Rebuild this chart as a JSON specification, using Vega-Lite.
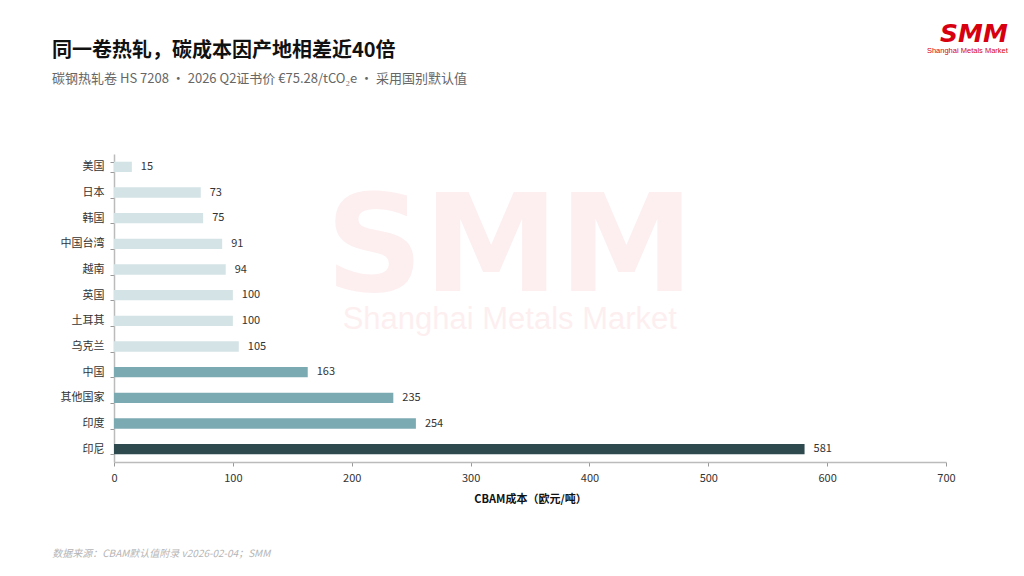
{
  "$schema": "https://vega.github.io/schema/vega-lite/v6.json",
  "description": "CBAM cost per tonne of hot-rolled coil by country of origin.",
  "width": 832,
  "height": 308,
  "autosize": {"type": "none"},
  "padding": {"left": 114, "top": 154, "right": 78, "bottom": 114},
  "background": "#ffffff",
  "title": {
    "text": "同一卷热轧，碳成本因产地相差近40倍",
    "subtitle": "碳钢热轧卷 HS 7208 · 2026 Q2证书价 €75.28/tCO₂e · 采用国别默认值",
    "anchor": "start",
    "frame": "group",
    "dx": -62,
    "offset": -64,
    "font": "Noto Sans CJK SC",
    "fontSize": 20,
    "fontWeight": "bold",
    "color": "#111111",
    "subtitleFont": "Noto Sans CJK SC",
    "subtitleFontSize": 13,
    "subtitleColor": "#666666",
    "subtitlePadding": 12
  },
  "data": {
    "values": [
      {"country": "美国", "cost": 15},
      {"country": "日本", "cost": 73},
      {"country": "韩国", "cost": 75},
      {"country": "中国台湾", "cost": 91},
      {"country": "越南", "cost": 94},
      {"country": "英国", "cost": 100},
      {"country": "土耳其", "cost": 100},
      {"country": "乌克兰", "cost": 105},
      {"country": "中国", "cost": 163},
      {"country": "其他国家", "cost": 235},
      {"country": "印度", "cost": 254},
      {"country": "印尼", "cost": 581}
    ]
  },
  "encoding": {
    "y": {
      "field": "country",
      "type": "nominal",
      "sort": ["美国", "日本", "韩国", "中国台湾", "越南", "英国", "土耳其", "乌克兰", "中国", "其他国家", "印度", "印尼"],
      "scale": {"paddingInner": 0.6, "paddingOuter": 0.3},
      "axis": {
        "title": null,
        "labelFont": "Noto Sans CJK SC",
        "labelFontSize": 11,
        "labelColor": "#333333",
        "labelPadding": 6,
        "tickBand": "extent",
        "tickSize": 4,
        "tickColor": "#999999",
        "domainColor": "#bbbbbb",
        "domainWidth": 1.5
      }
    }
  },
  "layer": [
    {
      "data": {"values": [{}]},
      "mark": {"type": "text", "font": "DejaVu Sans", "fontWeight": "bold", "fontSize": 136, "letterSpacing": -17, "color": "#fdeff0", "align": "center", "baseline": "alphabetic", "dy": 47},
      "encoding": {
        "x": {"datum": 333},
        "y": {"datum": "中国台湾"},
        "text": {"value": "SMM"}
      }
    },
    {
      "data": {"values": [{}]},
      "mark": {"type": "text", "font": "Liberation Sans", "fontSize": 31, "color": "#fdeff0", "align": "center", "baseline": "middle", "dy": -1},
      "encoding": {
        "x": {"datum": 333},
        "y": {"datum": "土耳其"},
        "text": {"value": "Shanghai Metals Market"}
      }
    },
    {
      "mark": {"type": "bar"},
      "encoding": {
        "x": {
          "field": "cost",
          "type": "quantitative",
          "title": "CBAM成本（欧元/吨）",
          "scale": {"domain": [0, 700]},
          "axis": {
            "values": [0, 100, 200, 300, 400, 500, 600, 700],
            "grid": false,
            "labelFlush": false,
            "labelFont": "Noto Sans CJK SC",
            "labelFontSize": 11,
            "labelColor": "#333333",
            "labelPadding": 6,
            "tickSize": 4,
            "tickColor": "#999999",
            "domainColor": "#bbbbbb",
            "domainWidth": 1.5,
            "titleFont": "Noto Sans CJK SC",
            "titleFontSize": 11,
            "titleFontWeight": "bold",
            "titleColor": "#111111",
            "titlePadding": 10
          }
        },
        "color": {
          "condition": [
            {"test": "datum.cost >= 500", "value": "#2f4a4f"},
            {"test": "datum.cost >= 150", "value": "#7caab2"}
          ],
          "value": "#d3e3e6"
        },
        "tooltip": [
          {"field": "country", "type": "nominal", "title": "产地"},
          {"field": "cost", "type": "quantitative", "title": "CBAM成本"}
        ]
      }
    },
    {
      "mark": {"type": "text", "align": "left", "baseline": "middle", "dx": 9, "font": "Noto Sans CJK SC", "fontSize": 11, "color": "#333333"},
      "encoding": {
        "x": {"field": "cost", "type": "quantitative"},
        "text": {"field": "cost", "type": "quantitative"}
      }
    },
    {
      "data": {"values": [{}]},
      "mark": {"type": "text", "font": "DejaVu Sans", "fontWeight": "bold", "fontStyle": "italic", "fontSize": 25, "letterSpacing": -2, "color": "#d7000f", "align": "right", "baseline": "alphabetic", "dy": -125},
      "encoding": {
        "x": {"datum": 752},
        "y": {"datum": "美国"},
        "text": {"value": "SMM"}
      }
    },
    {
      "data": {"values": [{}]},
      "mark": {"type": "text", "font": "Liberation Sans", "fontSize": 7.5, "color": "#d7000f", "align": "right", "baseline": "alphabetic", "dy": -114},
      "encoding": {
        "x": {"datum": 752},
        "y": {"datum": "美国"},
        "text": {"value": "Shanghai Metals Market"}
      }
    },
    {
      "data": {"values": [{}]},
      "mark": {"type": "text", "font": "Noto Sans CJK SC", "fontStyle": "italic", "fontSize": 10, "color": "#b5b5b5", "align": "left", "baseline": "middle", "dy": 105},
      "encoding": {
        "x": {"datum": -52},
        "y": {"datum": "印尼"},
        "text": {"value": "数据来源：CBAM默认值附录 v2026-02-04；SMM"}
      }
    }
  ],
  "config": {
    "view": {"stroke": null}
  }
}
